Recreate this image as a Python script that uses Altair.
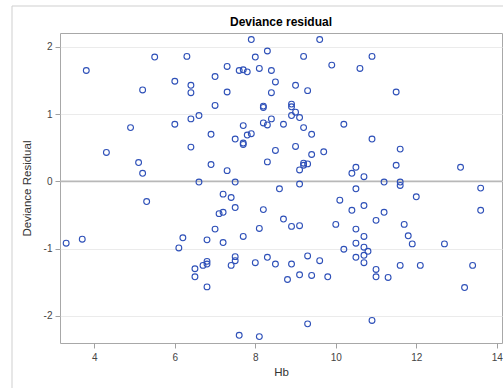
import altair as alt
import pandas as pd

hb = [
    3.8, 5.5, 6.3, 5.2, 6.0, 6.4, 6.4, 7.0, 7.3, 7.3, 7.6, 7.7, 7.8, 7.9, 8.0, 8.1, 8.3, 8.4, 8.5, 8.4,
    9.0, 9.2, 9.3, 9.6, 9.9, 10.6, 10.9, 11.5, 7.0, 8.2, 8.2, 8.9, 8.9, 9.0,
    8.9, 9.1, 8.4, 6.4, 6.6, 6.0, 4.9, 7.7, 8.2, 8.3, 8.7, 9.2, 10.2, 6.9, 7.5, 7.8,
    7.9, 7.7, 7.7, 9.4, 10.9, 4.3, 6.4, 9.0, 8.5, 9.7, 9.4, 11.6, 5.1, 6.9, 8.3, 9.2,
    9.2, 9.3, 9.1, 7.3, 5.2, 10.4, 10.5, 10.7, 11.5, 13.1,
    6.6, 7.5, 11.2, 11.6, 11.6, 9.1, 8.6, 10.5, 13.6, 7.2, 7.4, 5.3, 10.1, 12.0,
    7.5, 8.2, 10.4, 10.7, 11.2, 13.6, 7.1, 7.2, 8.7, 11.0, 8.9, 9.1, 10.0, 11.7,
    7.0, 8.1, 10.5, 6.2, 7.7, 10.7, 11.8, 3.7, 3.3, 6.8, 7.2, 10.5, 11.9, 12.7,
    6.1, 10.2, 10.7, 10.8, 6.5, 6.5, 6.7, 6.8, 6.8, 6.8, 7.4, 7.5, 7.5, 8.0,
    8.3, 8.5, 8.8, 8.9, 9.1, 9.3, 9.4, 9.6, 9.8, 10.5, 10.7, 10.7, 11.0, 11.0,
    11.3, 11.6, 12.1, 13.4, 13.2, 9.3, 10.9, 7.6, 8.1,
]
residual = [
    1.65, 1.85, 1.86, 1.36, 1.49, 1.43, 1.32, 1.56, 1.71, 1.33, 1.65, 1.66, 1.63, 2.11, 1.85, 1.68, 1.94, 1.65, 1.48, 1.32,
    1.43, 1.86, 1.35, 2.11, 1.73, 1.68, 1.86, 1.33, 1.13, 1.12, 1.10, 1.15, 1.11, 1.03,
    0.98, 0.95, 0.93, 0.93, 0.98, 0.85, 0.80, 0.83, 0.87, 0.84, 0.85, 0.80, 0.85, 0.70, 0.63, 0.69,
    0.71, 0.57, 0.55, 0.70, 0.63, 0.43, 0.51, 0.52, 0.46, 0.44, 0.40, 0.48, 0.28, 0.25, 0.29, 0.27,
    0.24, 0.26, 0.17, 0.16, 0.12, 0.12, 0.21, 0.07, 0.24, 0.21,
    -0.01, -0.01, -0.01, -0.01, -0.06, -0.04, -0.11, -0.11, -0.10, -0.19, -0.24, -0.30, -0.28, -0.23,
    -0.39, -0.42, -0.43, -0.36, -0.46, -0.43, -0.48, -0.46, -0.56, -0.58, -0.67, -0.66, -0.64, -0.64,
    -0.71, -0.70, -0.71, -0.84, -0.82, -0.82, -0.81, -0.86, -0.92, -0.87, -0.91, -0.92, -0.93, -0.93,
    -0.99, -1.01, -0.98, -1.04, -1.30, -1.42, -1.25, -1.19, -1.23, -1.57, -1.25, -1.12, -1.18, -1.21,
    -1.13, -1.23, -1.46, -1.23, -1.39, -1.11, -1.40, -1.18, -1.42, -1.13, -1.10, -1.21, -1.31, -1.42,
    -1.43, -1.25, -1.25, -1.25, -1.58, -2.12, -2.07, -2.29, -2.31,
]
x_ticks = [4, 6, 8, 10, 12, 14]
y_ticks = [-2, -1, 0, 1, 2]
title_text = ["Deviance residual"]

df = pd.DataFrame({"Hb": hb, "res": residual})

FONT = "Liberation Sans"
xscale = alt.Scale(domain=[3.147, 14.13], nice=False, zero=False)
yscale = alt.Scale(domain=[-2.405, 2.208], nice=False, zero=False)

points = alt.Chart(df).mark_point(
    shape="circle", filled=False, size=34, strokeWidth=1.1, color="#2E50B8", opacity=1
).encode(
    x=alt.X("Hb:Q", scale=xscale,
            axis=alt.Axis(title="Hb", values=x_ticks, grid=False, tickSize=5,
                          labelPadding=4, titlePadding=4,
                          labelExpr="'' + datum.value")),
    y=alt.Y("res:Q", scale=yscale,
            axis=alt.Axis(title="Deviance Residual", values=y_ticks, grid=True, tickSize=5,
                          labelPadding=3, titlePadding=11,
                          labelExpr="'' + datum.value")),
)

zero = alt.Chart(pd.DataFrame({"z": [0]})).mark_rule(color="#B8B8B8", strokeWidth=1.6).encode(
    y=alt.Y("z:Q", scale=yscale)
)

frame_top = alt.Chart(pd.DataFrame({"a": [0]})).mark_rule(color="#CFCFCF", strokeWidth=1).encode(
    x=alt.value(-48), x2=alt.value(445), y=alt.value(-27)
)
frame_left = alt.Chart(pd.DataFrame({"a": [0]})).mark_rule(color="#CFCFCF", strokeWidth=1).encode(
    x=alt.value(-48), y=alt.value(-27), y2=alt.value(360)
)

title = alt.Chart(pd.DataFrame({"t": title_text})).mark_text(
    font=FONT, fontSize=12, fontWeight="bold", color="#000000",
    align="center", baseline="alphabetic"
).encode(
    text="t:N", x=alt.value(221), y=alt.value(-7)
)

chart = alt.layer(frame_top, frame_left, zero, points, title).properties(
    width=442, height=310,
    padding={"left": 60, "top": 33, "right": 1, "bottom": 45},
    autosize=alt.AutoSizeParams(type="none"),
).configure_view(
    stroke="#A8A8A8", strokeWidth=1
).configure_axis(
    domain=False, labelFont=FONT, titleFont=FONT, labelFontSize=10, titleFontSize=11.5,
    labelColor="#444444", titleColor="#333333", titleFontWeight="normal",
    tickColor="#A0A0A0", gridColor="#EBEBEB", gridWidth=1
)

chart.save("out.html", embed_options={"renderer": "svg", "actions": False})
